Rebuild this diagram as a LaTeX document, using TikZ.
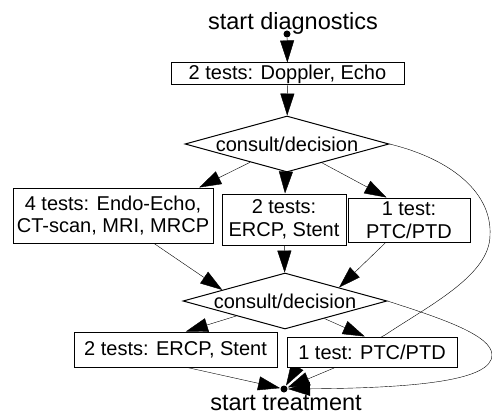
\documentclass[tikz,border=0pt]{standalone}
\usepackage{fontspec}
\setmainfont{Liberation Sans}
\usetikzlibrary{shapes.geometric,arrows.meta,backgrounds}

\tikzset{
  testbox/.style={draw, fill=white, rectangle, inner sep=0pt, align=center,
    font=\fontsize{20}{22.5}\selectfont},
  decision/.style={draw, fill=white, diamond, aspect=3.66, inner xsep=-30pt,
    inner ysep=-5pt, minimum width=204pt, minimum height=56pt,
    font=\fontsize{20}{22.5}\selectfont},
  terminal/.style={circle, fill, inner sep=0pt, minimum size=7pt},
  caption/.style={anchor=base, inner sep=0pt, font=\fontsize{23.5}{26}\selectfont},
  flow/.style={draw, -{Triangle[length=22pt,width=14pt]}}
}

\begin{document}
\begin{tikzpicture}[x=1pt,y=-1pt,line width=1pt]
        \useasboundingbox (0,0) rectangle (492,414);

        % start and end points
        \node[terminal] (sd) at (287,34)  {};
        \node[terminal] (st) at (284,389) {};
        \node[caption]  (sdlabel) at (293,29.5) {start diagnostics};
        \node[caption]  (stlabel) at (286,410)  {start treatment};

        % tests and decisions
        \node[testbox, minimum width=233pt, minimum height=22pt] (echo) at (287.5,74)  {2 tests: Doppler, Echo};
        \node[decision] (d1) at (287,144) {consult/decision};
        \node[testbox, minimum width=200pt, minimum height=55pt] (t4) at (113,215.5)  {4 tests: Endo-Echo,\\CT-scan, MRI, MRCP};
        \node[testbox, minimum width=124pt, minimum height=51pt] (t2) at (284,219.5)  {2 tests:\\ERCP, Stent};
        \node[testbox, minimum width=122pt, minimum height=44pt] (t1) at (409,220)    {1 test:\\PTC/PTD};
        \node[decision] (d2) at (285,301) {consult/decision};
        \node[testbox, minimum width=203pt, minimum height=35pt] (b2) at (175.5,349.5) {2 tests: ERCP, Stent};
        \node[testbox, minimum width=170pt, minimum height=30pt] (b1) at (372,352)    {1 test: PTC/PTD};

        \begin{pgfonlayer}{background}
          \begin{scope}[every edge/.style={flow}]
            \path (sd)     edge (echo);
            \path (echo)   edge (d1);
            \path (d1)     edge (t4.18);
            \path (d1)     edge (t2);
            \path (d1)     edge (t1.135);
            \path (t4)     edge (d2.170);
            \path (t2)     edge (d2);
            \path (t1)     edge (d2.14);
            \path (d2)     edge (b2.60);
            \path (d2)     edge (b1.115);
            \path (b2.-57) edge (st);
            \path (b1)     edge (st);
          \end{scope}

          % the two long ways round
          \draw[flow] (d1.east) .. controls (455,160) and (492,195) .. (490,235)
                      .. controls (490,275) and (430,305) .. (385,335)
                      .. controls (330,365) and (300,362) .. (st);
          \draw[flow] (d2.east) .. controls (440,318) and (492,335) .. (492,355)
                      .. controls (492,380) and (420,388) .. (st);
        \end{pgfonlayer}

      \end{tikzpicture}
\end{document}
